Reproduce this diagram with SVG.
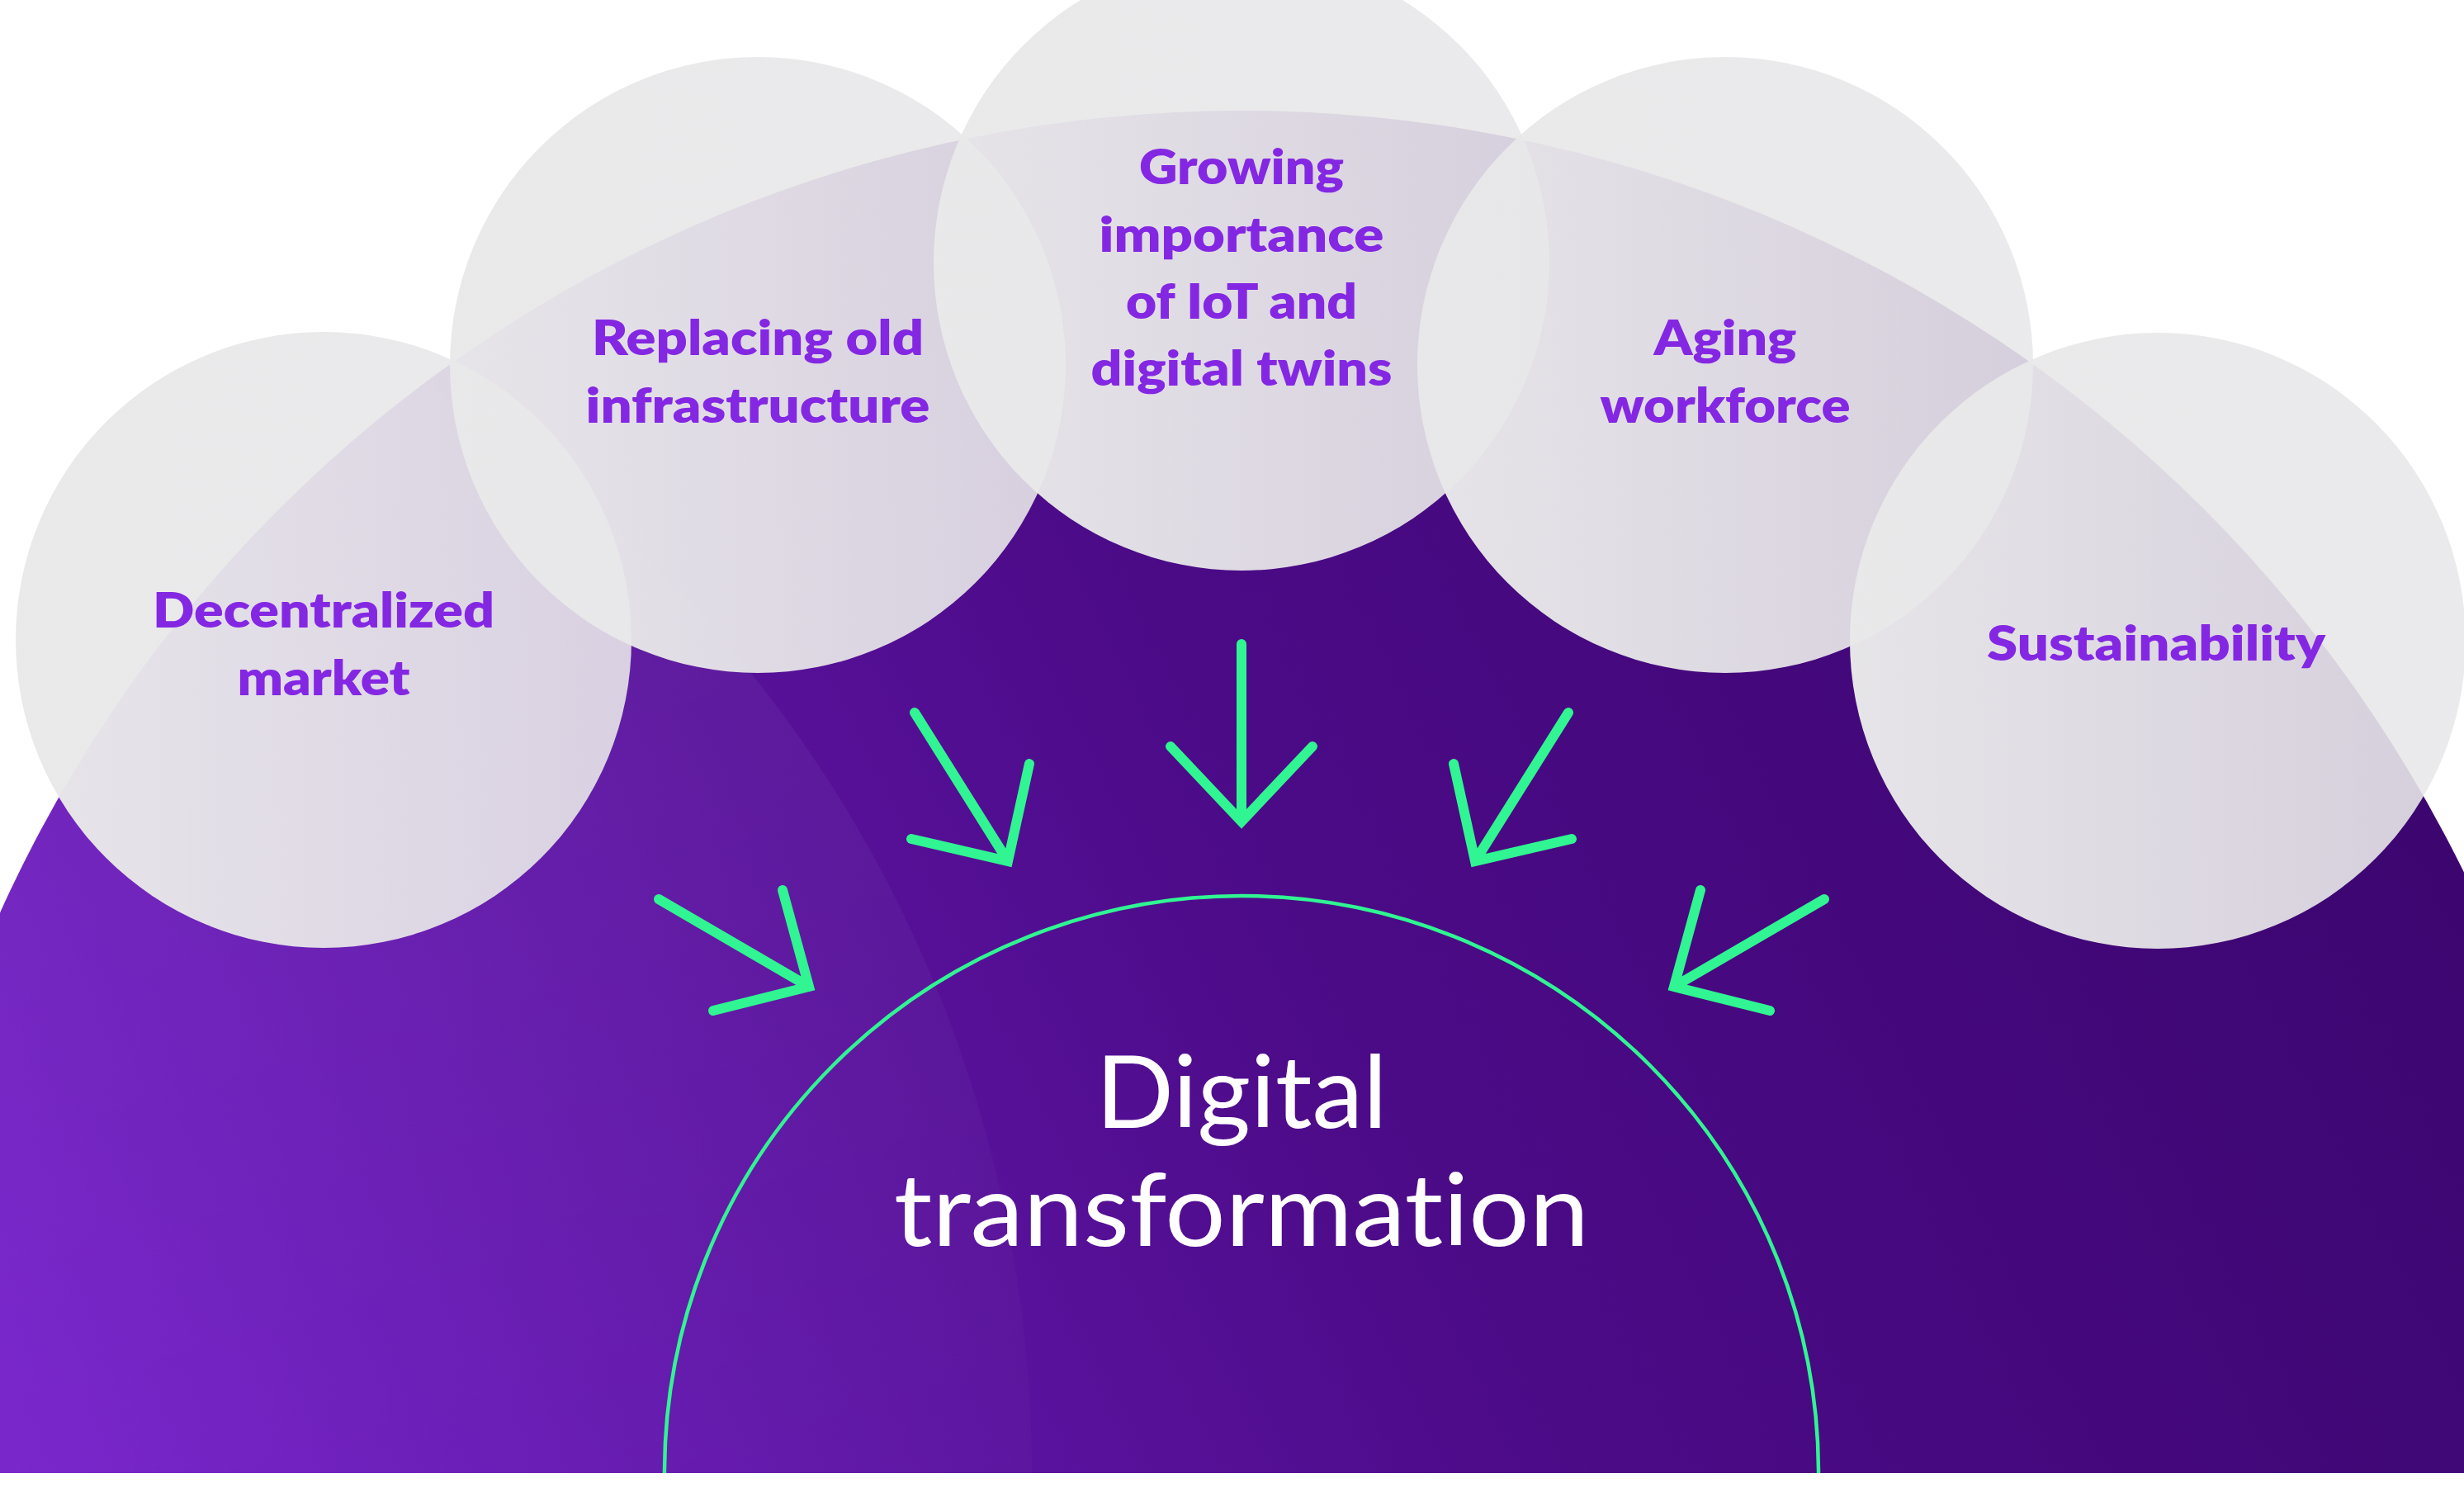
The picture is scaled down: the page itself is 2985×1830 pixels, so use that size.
<svg xmlns="http://www.w3.org/2000/svg" width="2985" height="1830" viewBox="0 0 2985 1830">
<defs>
  <linearGradient id="purple" gradientUnits="userSpaceOnUse" x1="0" y1="1784" x2="2985" y2="300">
    <stop offset="0" stop-color="#7621CB"/>
    <stop offset="0.5" stop-color="#4C0B88"/>
    <stop offset="1" stop-color="#38046A"/>
  </linearGradient>
  <linearGradient id="bubble" x1="0" y1="0" x2="1" y2="0">
    <stop offset="0" stop-color="#E9E9EA" stop-opacity="0.98"/>
    <stop offset="1" stop-color="#E8E7E9" stop-opacity="0.89"/>
  </linearGradient>
  <linearGradient id="sheen" gradientUnits="userSpaceOnUse" x1="900" y1="800" x2="1250" y2="1784">
    <stop offset="0" stop-color="#FFFFFF" stop-opacity="0.045"/>
    <stop offset="1" stop-color="#FFFFFF" stop-opacity="0.015"/>
  </linearGradient>
  <clipPath id="semi">
    <path d="M -146 1784 A 1650 1650 0 0 1 3154 1784 Z"/>
  </clipPath>
  <clipPath id="page">
    <rect x="0" y="0" width="2985" height="1784"/>
  </clipPath>
</defs>
<style>
  .bubble { fill: url(#bubble); }
  .label { font-family: Lato, "Open Sans", "Liberation Sans", sans-serif; font-weight: 800; font-size: 59px; fill: #8427E2; text-anchor: middle; }
  .title { font-family: Lato, "Open Sans", "Liberation Sans", sans-serif; font-weight: 400; font-size: 122px; fill: #FFFFFF; text-anchor: middle; font-variant-ligatures: none; }
  .arrow { fill: none; stroke: #30F592; stroke-width: 12; stroke-linecap: round; stroke-linejoin: miter; }
</style>
<rect x="0" y="0" width="2985" height="1830" fill="#FFFFFF"/>
<g id="background" clip-path="url(#page)">
  <circle cx="1504" cy="1784" r="1650" fill="url(#purple)"/>
  <g clip-path="url(#semi)">
    <circle cx="-300" cy="1784" r="1550" fill="url(#sheen)"/>
  </g>
</g>
<g id="node-digital-transformation" clip-path="url(#page)">
  <circle cx="1504" cy="1784" r="699" fill="none" stroke="#30F592" stroke-width="4.5"/>
  <text class="title" x="1504" y="1366" textLength="353" lengthAdjust="spacingAndGlyphs">Digital</text>
  <text class="title" x="1504" y="1509" textLength="842" lengthAdjust="spacingAndGlyphs">transformation</text>
</g>
<g id="connectors">
  <path class="arrow" d="M 1504 780 L 1504 995 M 1418 904 L 1504 995 L 1590 904"/>
  <path class="arrow" d="M 1108 863 L 1221 1043 M 1104 1016 L 1221 1043 L 1247 925"/>
  <path class="arrow" d="M 1900 863 L 1787 1043 M 1904 1016 L 1787 1043 L 1761 925"/>
  <path class="arrow" d="M 798 1089 L 980 1195 M 864 1224 L 980 1195 L 948 1078"/>
  <path class="arrow" d="M 2210 1089 L 2028 1195 M 2144 1224 L 2028 1195 L 2060 1078"/>
</g>
<g id="node-decentralized-market">
  <circle class="bubble" cx="392" cy="775" r="373"/>
  <text class="label" x="392" y="760" textLength="414" lengthAdjust="spacingAndGlyphs">Decentralized</text>
  <text class="label" x="392" y="842" textLength="209" lengthAdjust="spacingAndGlyphs">market</text>
</g>
<g id="node-replacing-old-infrastructure">
  <circle class="bubble" cx="918" cy="442" r="373"/>
  <text class="label" x="918" y="430" textLength="402" lengthAdjust="spacingAndGlyphs">Replacing old</text>
  <text class="label" x="918" y="512" textLength="417" lengthAdjust="spacingAndGlyphs">infrastructure</text>
</g>
<g id="node-aging-workforce">
  <circle class="bubble" cx="2090" cy="442" r="373"/>
  <text class="label" x="2090" y="430" textLength="173" lengthAdjust="spacingAndGlyphs">Aging</text>
  <text class="label" x="2090" y="512" textLength="303" lengthAdjust="spacingAndGlyphs">workforce</text>
</g>
<g id="node-sustainability">
  <circle class="bubble" cx="2614" cy="776" r="373"/>
  <text class="label" x="2612" y="800" textLength="410" lengthAdjust="spacingAndGlyphs">Sustainability</text>
</g>
<g id="node-growing-importance">
  <circle class="bubble" cx="1504" cy="318" r="373"/>
  <text class="label" x="1504" y="223" textLength="248" lengthAdjust="spacingAndGlyphs">Growing</text>
  <text class="label" x="1504" y="305" textLength="345" lengthAdjust="spacingAndGlyphs">importance</text>
  <text class="label" x="1504" y="386" textLength="280" lengthAdjust="spacingAndGlyphs">of IoT and</text>
  <text class="label" x="1504" y="467" textLength="365" lengthAdjust="spacingAndGlyphs">digital twins</text>
</g>
</svg>
